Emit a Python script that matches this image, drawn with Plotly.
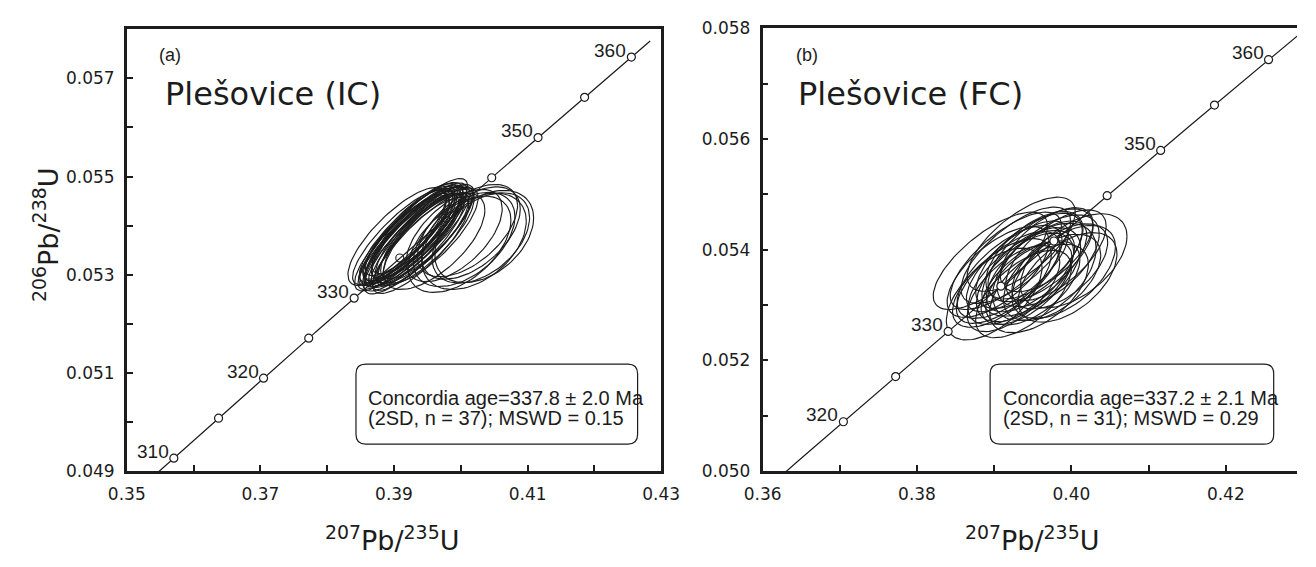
import numpy as np
import plotly.graph_objects as go

# ---------------- data ----------------
# decay constants (1/yr) for the Wetherill concordia
LAMBDA_238 = 1.55125e-10
LAMBDA_235 = 9.8485e-10

# concordia age markers (Ma) and labelled ages
left_marker_ages = [310, 315, 320, 325, 330, 345, 350, 355, 360]
left_hidden_marker_ages = [335, 340]          # drawn beneath the ellipses
left_label_ages = [310, 320, 330, 350, 360]
right_marker_ages = [320, 325, 330, 335, 340, 345, 350, 355, 360, 365]
right_label_ages = [320, 330, 350, 360]
left_curve_ages = (308.3, 362.0)
right_curve_ages = (300.0, 372.0)

# Panel (a) Plesovice (IC): 37 analyses  (207Pb/235U, 206Pb/238U, 2s errors, rho)
L_cx = [0.3920, 0.3928, 0.3935, 0.3940, 0.3932, 0.3925, 0.3915, 0.3945, 0.3938, 0.3930,
        0.3922, 0.3948, 0.3918, 0.3942, 0.3935, 0.3928, 0.3912, 0.3950, 0.3933, 0.3926,
        0.3940, 0.3920, 0.3908, 0.3955, 0.3930, 0.3943,
        0.3990, 0.4005, 0.4015, 0.4020, 0.4030, 0.3998, 0.4010, 0.4035,
        0.3932, 0.3905, 0.3960]
L_cy = [0.05375, 0.05380, 0.05385, 0.05378, 0.05370, 0.05365, 0.05372, 0.05382, 0.05390, 0.05362,
        0.05386, 0.05376, 0.05380, 0.05368, 0.05395, 0.05374, 0.05364, 0.05388, 0.05378, 0.05392,
        0.05360, 0.05370, 0.05376, 0.05380, 0.05384, 0.05372,
        0.05380, 0.05372, 0.05385, 0.05368, 0.05375, 0.05362, 0.05390, 0.05378,
        0.05392, 0.05378, 0.05368]
L_sx = [0.0071, 0.0072, 0.0069, 0.0074, 0.0070, 0.0072, 0.0068, 0.0073, 0.0071, 0.0075,
        0.0069, 0.0072, 0.0070, 0.0074, 0.0068, 0.0073, 0.0071, 0.0070, 0.0076, 0.0069,
        0.0072, 0.0074, 0.0070, 0.0071, 0.0073, 0.0069,
        0.0072, 0.0076, 0.0074, 0.0078, 0.0073, 0.0077, 0.0075, 0.0074,
        0.0078, 0.0074, 0.0076]
L_sy = [0.00096, 0.00098, 0.00094, 0.00100, 0.00096, 0.00098, 0.00094, 0.00099, 0.00097, 0.00101,
        0.00095, 0.00098, 0.00096, 0.00100, 0.00093, 0.00099, 0.00097, 0.00096, 0.00102, 0.00094,
        0.00098, 0.00100, 0.00096, 0.00097, 0.00099, 0.00095,
        0.00094, 0.00096, 0.00094, 0.00098, 0.00092, 0.00098, 0.00094, 0.00094,
        0.00104, 0.00100, 0.00098]
L_rho = [0.84, 0.86, 0.82, 0.87, 0.84, 0.83, 0.86, 0.81, 0.85, 0.84,
         0.86, 0.80, 0.84, 0.87, 0.82, 0.85, 0.83, 0.81, 0.86, 0.84,
         0.82, 0.87, 0.84, 0.79, 0.85, 0.83,
         0.58, 0.48, 0.52, 0.42, 0.45, 0.50, 0.55, 0.40,
         0.86, 0.78, 0.65]

# Panel (b) Plesovice (FC): 31 analyses
R_cx = [0.3895, 0.3935, 0.3900, 0.4003, 0.3965, 0.3910, 0.3920, 0.3925, 0.3930, 0.3940,
        0.3945, 0.3950, 0.3955, 0.3960, 0.3915, 0.3938, 0.3948, 0.3970, 0.3975, 0.3980,
        0.3985, 0.3990, 0.3905, 0.3928, 0.3942, 0.3958, 0.3968, 0.3918, 0.3952, 0.3995,
        0.3935]
R_cy = [0.0538, 0.0541, 0.0532, 0.0538, 0.0536, 0.0534, 0.0536, 0.0533, 0.0537, 0.0535,
        0.0538, 0.0534, 0.0537, 0.0539, 0.0538, 0.0532, 0.0536, 0.0538, 0.0535, 0.0539,
        0.0537, 0.0536, 0.0536, 0.0539, 0.0534, 0.0533, 0.0540, 0.0535, 0.0539, 0.0535,
        0.0535]
R_sx = [0.0074, 0.0070, 0.0062, 0.0069, 0.0067, 0.0064, 0.0068, 0.0060, 0.0066, 0.0063,
        0.0069, 0.0061, 0.0065, 0.0068, 0.0072, 0.0062, 0.0064, 0.0066, 0.0063, 0.0065,
        0.0062, 0.0067, 0.0066, 0.0071, 0.0059, 0.0064, 0.0060, 0.0067, 0.0063, 0.0064,
        0.0069]
R_sy = [0.00088, 0.00085, 0.00083, 0.00085, 0.00088, 0.00080, 0.00084, 0.00078, 0.00082, 0.00080,
        0.00086, 0.00076, 0.00082, 0.00084, 0.00088, 0.00079, 0.00080, 0.00083, 0.00078, 0.00082,
        0.00077, 0.00084, 0.00082, 0.00087, 0.00075, 0.00080, 0.00076, 0.00083, 0.00079, 0.00081,
        0.00085]
R_rho = [0.72, 0.68, 0.58, 0.52, 0.48, 0.64, 0.66, 0.62, 0.70, 0.58,
         0.64, 0.56, 0.68, 0.62, 0.72, 0.60, 0.54, 0.58, 0.52, 0.64,
         0.56, 0.54, 0.66, 0.70, 0.60, 0.54, 0.62, 0.68, 0.60, 0.52,
         0.64]

box_text_a = ["Concordia age=337.8 ± 2.0 Ma", "(2SD, n = 37); MSWD = 0.15"]
box_text_b = ["Concordia age=337.2 ± 2.1 Ma", "(2SD, n = 31); MSWD = 0.29"]

# ---------------- helpers ----------------
W, H = 1316, 567
INK = "#1c1c1c"
TICKFONT = dict(family="DejaVu Sans", size=17, color=INK)
ARIAL = "Liberation Sans, Arial"


def concordia(age_ma):
    t = np.asarray(age_ma, dtype=float) * 1e6
    return np.exp(LAMBDA_235 * t) - 1.0, np.exp(LAMBDA_238 * t) - 1.0


def ellipse_path(cx, cy, sx, sy, rho, n=90):
    xs, ys = [], []
    th = np.linspace(0, 2 * np.pi, n)
    for a, b, c, d, r in zip(cx, cy, sx, sy, rho):
        xs += list(a + c * np.cos(th)) + [None]
        ys += list(b + d * (r * np.cos(th) + np.sqrt(1 - r * r) * np.sin(th))) + [None]
    return xs, ys


def px2paper_x(px):
    return px / W


def px2paper_y(py):
    return (H - py) / H


def rounded_box(x0, y0, x1, y1, r):
    X = lambda v: f"{px2paper_x(v):.5f}"
    Y = lambda v: f"{px2paper_y(v):.5f}"
    return (f"M {X(x0 + r)} {Y(y0)} L {X(x1 - r)} {Y(y0)} Q {X(x1)} {Y(y0)} {X(x1)} {Y(y0 + r)} "
            f"L {X(x1)} {Y(y1 - r)} Q {X(x1)} {Y(y1)} {X(x1 - r)} {Y(y1)} "
            f"L {X(x0 + r)} {Y(y1)} Q {X(x0)} {Y(y1)} {X(x0)} {Y(y1 - r)} "
            f"L {X(x0)} {Y(y0 + r)} Q {X(x0)} {Y(y0)} {X(x0 + r)} {Y(y0)} Z")


fig = go.Figure()
MK = dict(size=8, color="white", line=dict(color=INK, width=1.2))
MK_HIDDEN = dict(size=8, color="rgba(0,0,0,0)", line=dict(color=INK, width=1.1))

panels = [
    dict(xa="x", ya="y", cx=L_cx, cy=L_cy, sx=L_sx, sy=L_sy, rho=L_rho,
         curve=left_curve_ages, mk=left_marker_ages, hid=left_hidden_marker_ages, lb=left_label_ages),
    dict(xa="x2", ya="y2", cx=R_cx, cy=R_cy, sx=R_sx, sy=R_sy, rho=R_rho,
         curve=right_curve_ages, mk=right_marker_ages, hid=[], lb=right_label_ages),
]

annotations = []
for p in panels:
    ages = np.linspace(p["curve"][0], p["curve"][1], 200)
    cxv, cyv = concordia(ages)
    fig.add_trace(go.Scatter(x=cxv, y=cyv, mode="lines", xaxis=p["xa"], yaxis=p["ya"],
                             line=dict(color=INK, width=1.2), hoverinfo="skip", showlegend=False))
    if p["hid"]:
        hx, hy = concordia(p["hid"])
        fig.add_trace(go.Scatter(x=hx, y=hy, mode="markers", xaxis=p["xa"], yaxis=p["ya"],
                                 marker=MK_HIDDEN, hoverinfo="skip", showlegend=False))
    ex, ey = ellipse_path(p["cx"], p["cy"], p["sx"], p["sy"], p["rho"])
    fig.add_trace(go.Scatter(x=ex, y=ey, mode="lines", xaxis=p["xa"], yaxis=p["ya"],
                             line=dict(color=INK, width=1.15), hoverinfo="skip", showlegend=False))
    mx, my = concordia(p["mk"])
    fig.add_trace(go.Scatter(x=mx, y=my, mode="markers", xaxis=p["xa"], yaxis=p["ya"],
                             marker=MK, hoverinfo="skip", showlegend=False, cliponaxis=True))
    lx, ly = concordia(p["lb"])
    for age, a, b in zip(p["lb"], lx, ly):
        annotations.append(dict(x=a, y=b, xref=p["xa"], yref=p["ya"], text=str(age),
                                showarrow=False, xanchor="right", yanchor="middle",
                                xshift=-3, yshift=7, font=dict(family=ARIAL, size=19, color=INK)))

# panel letters and titles
for txt, px, py, size, fam in [("(a)", 142, 47, 18, ARIAL), ("(b)", 798, 47, 18, ARIAL),
                               ("Plešovice (IC)", 148, 87, 32, "DejaVu Sans"),
                               ("Plešovice (FC)", 800, 87, 32, "DejaVu Sans")]:
    annotations.append(dict(x=px2paper_x(px), y=px2paper_y(py), xref="paper", yref="paper",
                            text=txt, showarrow=False, xanchor="left", yanchor="middle",
                            font=dict(family=fam, size=size, color=INK)))

# concordia-age boxes
shapes = []
for (x0, x1, tx), lines in [((347, 637, 357), box_text_a), ((1000, 1292, 1011), box_text_b)]:
    shapes.append(dict(type="path", xref="paper", yref="paper",
                       path=rounded_box(x0, 367, x1, 450, 10),
                       line=dict(color=INK, width=1.2), fillcolor="white", layer="above"))
    for line, py in zip(lines, [402, 423]):
        annotations.append(dict(x=px2paper_x(tx), y=px2paper_y(py), xref="paper", yref="paper",
                                text=line, showarrow=False, xanchor="left", yanchor="middle",
                                font=dict(family=ARIAL, size=20, color=INK)))

# axis titles
for px, py in [(384, 548), (1043, 548)]:
    annotations.append(dict(x=px2paper_x(px), y=px2paper_y(py), xref="paper", yref="paper",
                            text="<sup>207</sup>Pb/<sup>235</sup>U", showarrow=False,
                            xanchor="center", yanchor="middle",
                            font=dict(family="DejaVu Sans", size=27, color=INK)))
annotations.append(dict(x=px2paper_x(28), y=px2paper_y(233), xref="paper", yref="paper",
                        text="<sup>206</sup>Pb/<sup>238</sup>U", showarrow=False, textangle=-90,
                        xanchor="center", yanchor="middle",
                        font=dict(family="DejaVu Sans", size=27, color=INK)))


def tick_setup(start, stop, step, labelled, fmt):
    vals = list(np.round(np.arange(start, stop + step / 2, step), 4))
    text = [fmt.format(v) if any(abs(v - l) < 1e-9 for l in labelled) else "" for v in vals]
    return vals, text


ax_common = dict(showgrid=False, zeroline=False, showline=True, linecolor=INK, linewidth=2.5,
                 ticks="inside", ticklen=6, tickwidth=1.5, tickcolor=INK, tickfont=TICKFONT,
                 ticklabelstandoff=6)

xv, xt = tick_setup(0.35, 0.43, 0.01, [0.35, 0.37, 0.39, 0.41, 0.43], "{:.2f}")
yv, yt = tick_setup(0.049, 0.058, 0.001, [0.049, 0.051, 0.053, 0.055, 0.057], "{:.3f}")
x2v, x2t = tick_setup(0.36, 0.42, 0.01, [0.36, 0.38, 0.40, 0.42], "{:.2f}")
y2v, y2t = tick_setup(0.050, 0.058, 0.001, [0.050, 0.052, 0.054, 0.056, 0.058], "{:.3f}")

fig.update_layout(
    width=W, height=H, margin=dict(l=0, r=0, t=0, b=0),
    paper_bgcolor="white", plot_bgcolor="white", showlegend=False,
    xaxis=dict(domain=[111 / W, 661.3 / W], range=[0.35, 0.43], tickvals=xv, ticktext=xt,
               mirror=True, anchor="y", **ax_common),
    yaxis=dict(domain=[px2paper_y(478), px2paper_y(20)], range=[0.049, 0.058], tickvals=yv,
               ticktext=yt, mirror=True, anchor="x", **ax_common),
    xaxis2=dict(domain=[765.7 / W, 1.0], range=[0.36, 0.42922], tickvals=x2v, ticktext=x2t,
                mirror=True, anchor="y2", **ax_common),
    yaxis2=dict(domain=[px2paper_y(478), px2paper_y(19)], range=[0.050, 0.058], tickvals=y2v,
                ticktext=y2t, mirror=False, anchor="x2", **ax_common),
    annotations=annotations, shapes=shapes,
)

fig.write_html("out.html")
